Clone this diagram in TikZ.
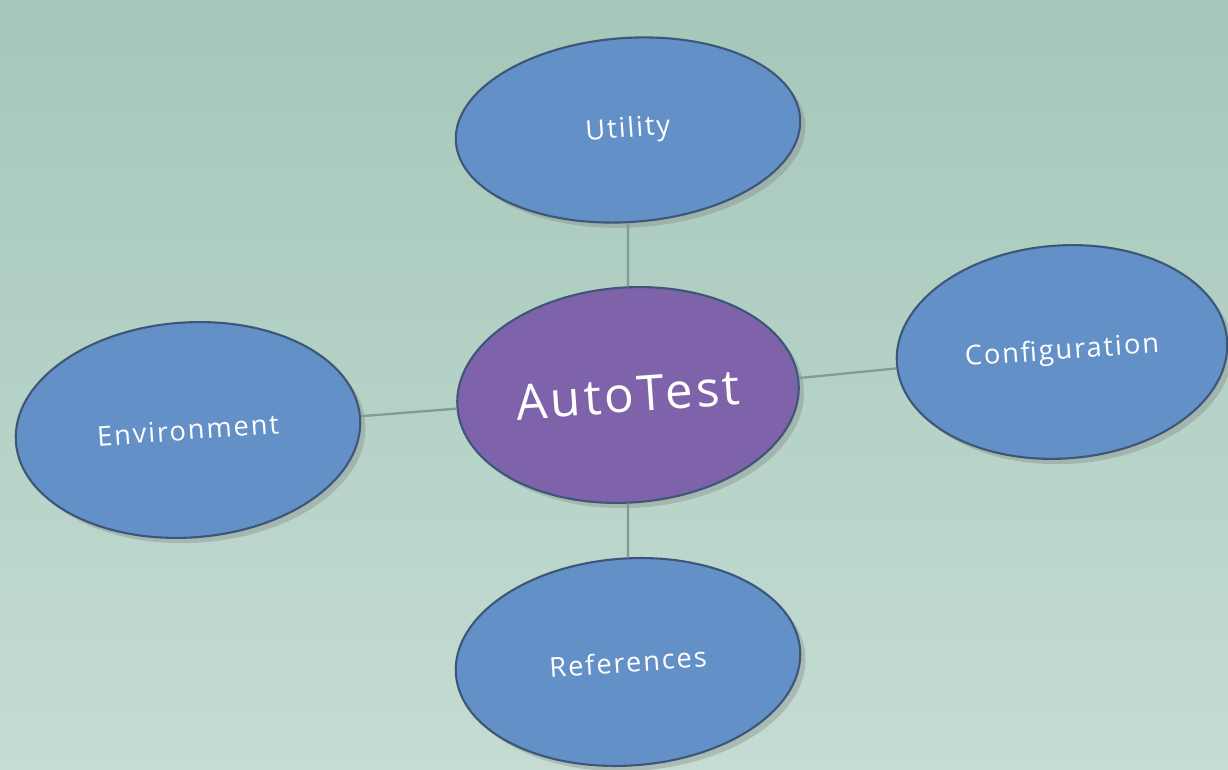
\documentclass[tikz,border=0pt]{standalone}
\usepackage{fontspec}
\setmainfont{Open Sans}[LetterSpace=7]
\usepackage{tikz}
\usetikzlibrary{shapes, positioning, shadows}
\definecolor{bgtop}{HTML}{A4C7B9}
\definecolor{bgbottom}{HTML}{C4DCD2}
\definecolor{leafblue}{HTML}{6490C8}
\definecolor{hubpurple}{HTML}{7E63AA}
\definecolor{rimdark}{HTML}{3E5677}
\definecolor{linkgray}{HTML}{7E9C98}
\tikzset {
    bubble/.style = {
        draw = rimdark,
        shape = ellipse,
        line width = 1.2pt,
        inner sep = 0pt,
        minimum width = 6.9cm,
        minimum height = 4.2cm,
        text = white,
        drop shadow = {shadow xshift=3pt, shadow yshift=-3pt, opacity=0.35}
    },
    leaf/.style = {
        bubble,
        fill = leafblue,
        font = {\fontsize{15.5}{17}\selectfont},
        rotate = 4
    },
    hub/.style = {
        bubble,
        fill = hubpurple,
        font = {\fontsize{28}{30}\selectfont},
        minimum width = 6.84cm,
        minimum height = 4.3cm,
        rotate = 4
    },
    link/.style = {
        draw = linkgray,
        line width = 1.3pt
    }
}
\begin{document}
\begin{tikzpicture}
    % background
    \shade [top color=bgtop, bottom color=bgbottom] (0, 0) rectangle (24.56, 15.38);
    \useasboundingbox (0, 0) rectangle (24.56, 15.38);

    % hub in the middle, leaves round it
    \node [hub] at (12.56, 7.48)                              (autotest) {AutoTest};
    \node [leaf, minimum height=3.68cm] at (12.56, 12.78)     (utility)  {Utility};
    \node [leaf, minimum width=6.62cm, minimum height=4.26cm]
          at (21.24, 8.34)                                    (config)   {Configuration};
    \node [leaf, minimum height=4.3cm] at (3.76, 6.78)        (environ)  {Environment};
    \node [leaf, minimum height=4.14cm] at (12.56, 2.14)      (refs)     {References};

    % connectors
    \path [link] (utility)  -- (autotest);
    \path [link] (refs)     -- (autotest);
    \path [link] (environ)  -- (autotest);
    \path [link] (config)   -- (autotest);
\end{tikzpicture}
\end{document}
